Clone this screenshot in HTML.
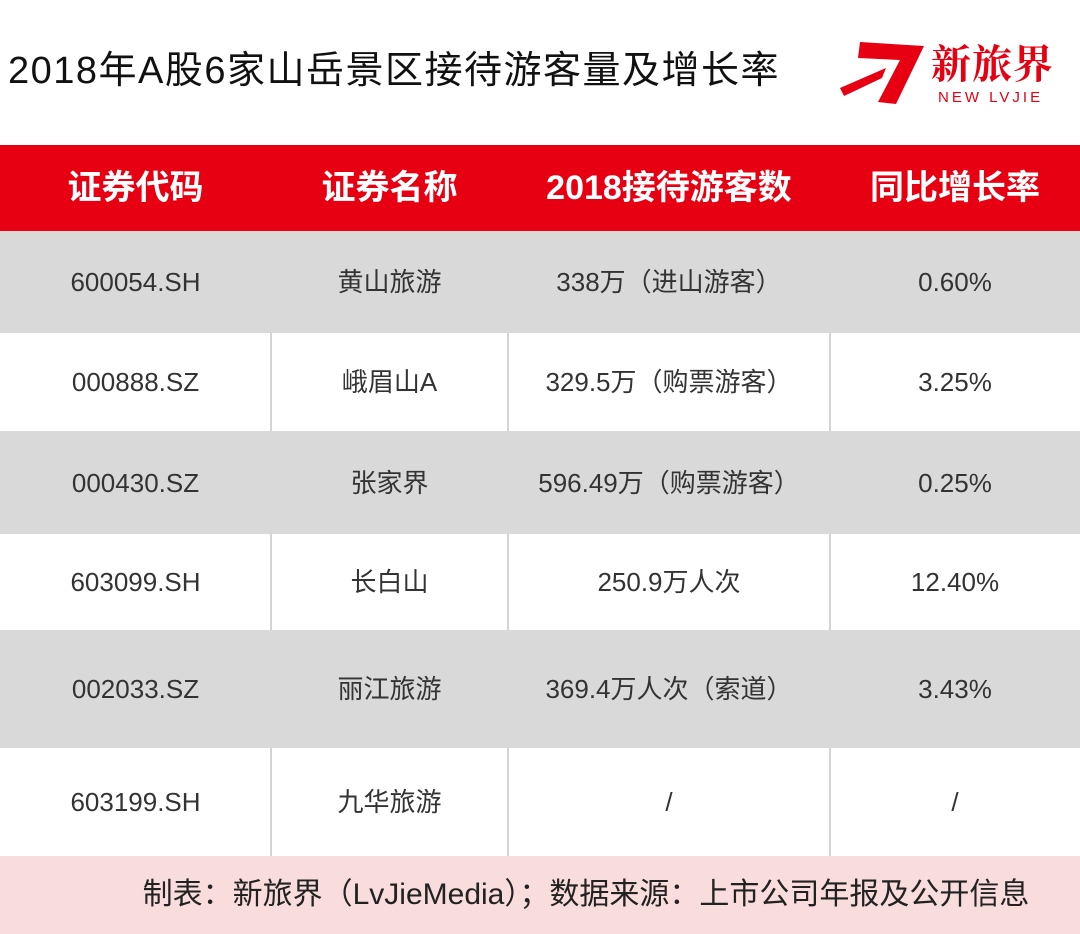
<!DOCTYPE html>
<html><head><meta charset="utf-8"><style>
body{margin:0;width:1080px;height:934px;background:#fff;position:relative;overflow:hidden;font-family:"Liberation Sans","Noto Sans CJK SC",sans-serif;color:#222}
.a{position:absolute}
.row{position:absolute;left:0;width:1080px}
.c{position:absolute;top:0;height:100%;display:flex;align-items:center;justify-content:center;font-size:26px;line-height:30px;color:#333;white-space:nowrap}
.vl{position:absolute;top:0;width:2px;height:100%;background:#d4d4d4}
.hd .c{color:#fff;font-size:34px;line-height:40px;font-weight:bold}
</style></head><body>
<div class="a" style="left:8px;top:51px;font-size:38px;line-height:40px;letter-spacing:1.5px;color:#111">2018年A股6家山岳景区接待游客量及增长率</div>
<div class="a" style="left:838px;top:38px;width:240px;height:72px">
<svg width="90" height="70" style="position:absolute;left:0;top:0"><polygon points="22,4 86,8 58,66 40,64 62,22 20,20" fill="#e60012"/><polygon points="2,50 48,30 44,40 6,58" fill="#e60012"/></svg>
<div class="a" style="left:93px;top:0px;font-size:40px;line-height:48px;font-family:'Noto Serif CJK SC',serif;font-weight:bold;color:#e60012;letter-spacing:1px">新旅界</div>
<div class="a" style="left:100px;top:52px;font-size:15px;line-height:16px;color:#e60012;letter-spacing:3px">NEW LVJIE</div>
</div>
<div class="row hd" style="top:145px;height:86px;background:#e60012">
<div class="c" style="left:0;width:271px">证券代码</div><div class="c" style="left:271px;width:237px">证券名称</div><div class="c" style="left:508px;width:322px">2018接待游客数</div><div class="c" style="left:830px;width:250px">同比增长率</div>
</div>
<div id="rows"></div>
<div class="row" style="top:856px;height:78px;background:#f9dcdc"><div class="c" style="left:0;width:1172px;font-size:30px;line-height:36px;color:#222">制表：新旅界（LvJieMedia）；数据来源：上市公司年报及公开信息</div></div>
<script>
const codes=["600054.SH","000888.SZ","000430.SZ","603099.SH","002033.SZ","603199.SH"];
const names=["黄山旅游","峨眉山A","张家界","长白山","丽江旅游","九华旅游"];
const visitors=["338万（进山游客）","329.5万（购票游客）","596.49万（购票游客）","250.9万人次","369.4万人次（索道）","/"];
const growth=["0.60%","3.25%","0.25%","12.40%","3.43%","/"];
const tops=[231,333,431,534,630,748,856];
const cols=[[0,271],[271,237],[508,322],[830,250]];
const host=document.getElementById('rows');
codes.forEach((code,i)=>{
 const r=document.createElement('div');
 
 
 r.className='row';r.style.top=tops[i]+'px';r.style.height=(tops[i+1]-tops[i])+'px';
 r.style.background=i%2===0?'#d9d9d9':'#fff';
 [code,names[i],visitors[i],growth[i]].forEach((t,j)=>{
  const c=document.createElement('div');
  
  
  c.className='c';c.style.left=cols[j][0]+'px';c.style.width=cols[j][1]+'px';c.textContent=t;r.appendChild(c);
 });
 if(i%2===1){[271,508,830].forEach(x=>{const v=document.createElement('div');
  
  
  v.className='vl';v.style.left=(x-1)+'px';r.appendChild(v);});}
 host.appendChild(r);
});
</script>
</body></html>
